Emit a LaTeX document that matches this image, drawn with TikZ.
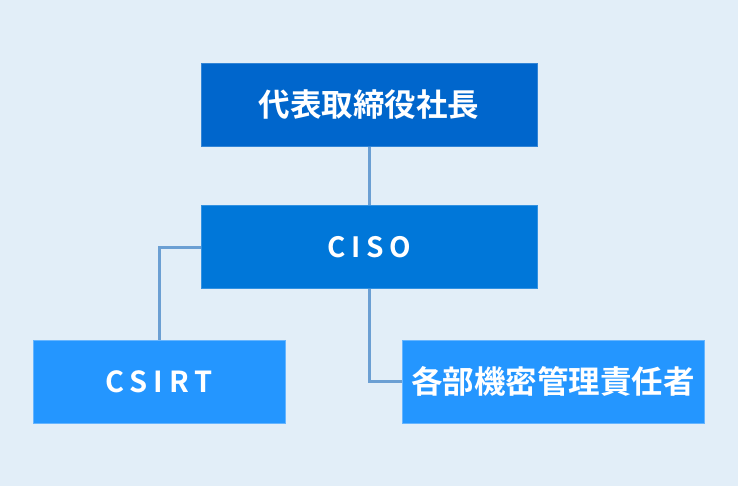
\documentclass[tikz,border=0pt]{standalone}
\usepackage{fontspec}
\setmainfont{Noto Sans CJK JP}
\newfontfamily\jpb{Noto Sans CJK JP Bold}
\newfontfamily\lat{Noto Sans CJK JP Bold}[LetterSpace=20]
\definecolor{bgc}{HTML}{E2EEF8}
\definecolor{topc}{HTML}{0066CC}
\definecolor{midc}{HTML}{0077D9}
\definecolor{lowc}{HTML}{2496FF}
\definecolor{linec}{HTML}{6B9FD3}
\tikzset{
  boxtop/.style={draw=topc!80!white, line width=1pt, fill=topc, minimum width=336pt, minimum height=83pt, inner sep=0pt, text=white},
  boxmid/.style={draw=midc!80!white, line width=1pt, fill=midc, minimum width=336pt, minimum height=83pt, inner sep=0pt, text=white},
  boxlow/.style={draw=lowc!70!white, line width=1pt, fill=lowc, minimum height=83pt, inner sep=0pt, text=white},
  conn/.style={draw=linec, line width=3pt}
}
\begin{document}
\begin{tikzpicture}[x=1pt,y=-1pt]
\fill[bgc] (0,0) rectangle (738,486);
\useasboundingbox (0,0) rectangle (738,486);
\node[boxtop] (ceo) at (369,105) {\fontsize{31.5}{33}\jpb 代表取締役社長};
\node[boxmid] (ciso) at (369,247) {\fontsize{28}{30}\lat CISO};
\node[boxlow, minimum width=252pt] (csirt) at (159,381.5) {\fontsize{29}{31}\lat CSIRT};
\node[boxlow, minimum width=302pt] (mgr) at (553,381.5) {\fontsize{31.5}{33}\jpb 各部機密管理責任者};
\draw[conn] (ceo.south) -- (ciso.north);
\draw[conn] (ciso.west) -| (csirt.north);
\draw[conn] (ciso.south) |- (mgr.west);
\end{tikzpicture}
\end{document}
